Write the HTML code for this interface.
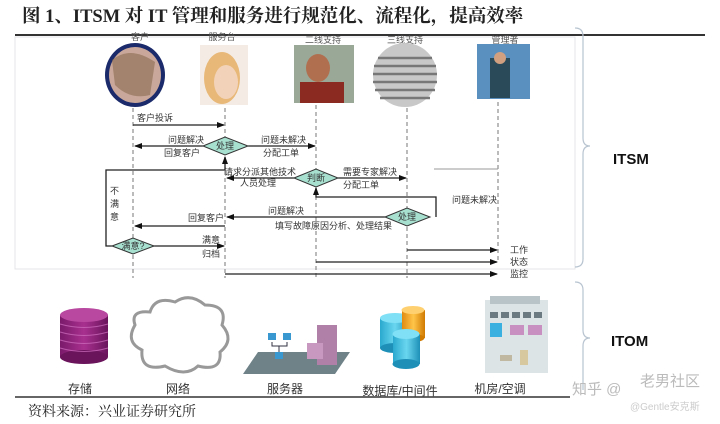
<!DOCTYPE html>
<html><head><meta charset="utf-8"><style>
body{margin:0;background:#fff;}
svg{display:block;font-family:"Liberation Sans","Noto Sans CJK SC",sans-serif;}
.s{font-family:"Liberation Serif","Noto Serif CJK SC",serif;}
</style></head><body>
<svg width="720" height="424" viewBox="0 0 720 424" xmlns="http://www.w3.org/2000/svg">
<defs>
<marker id="a" markerWidth="8" markerHeight="8" refX="7" refY="4" orient="auto" markerUnits="userSpaceOnUse"><path d="M0,1 L8,4 L0,7 Z" fill="#111"/></marker>
<linearGradient id="pg" x1="0" x2="1"><stop offset="0" stop-color="#7a1a6a"/><stop offset="0.5" stop-color="#a8308f"/><stop offset="1" stop-color="#6a145c"/></linearGradient>
<linearGradient id="cg" x1="0" x2="1"><stop offset="0" stop-color="#2aa9cf"/><stop offset="0.5" stop-color="#6ad6ef"/><stop offset="1" stop-color="#1e90b8"/></linearGradient>
<linearGradient id="og" x1="0" x2="1"><stop offset="0" stop-color="#e08a10"/><stop offset="0.5" stop-color="#ffc54a"/><stop offset="1" stop-color="#d07a00"/></linearGradient>
</defs>
<text x="22" y="22" font-size="18.5" font-weight="bold" class="s" fill="#222">图 1、ITSM 对 IT 管理和服务进行规范化、流程化，提高效率</text>
<line x1="15" y1="35" x2="705" y2="35" stroke="#333" stroke-width="2"/>
<rect x="15" y="37" width="560" height="232" fill="none" stroke="#e6e6ea" stroke-width="1"/>
<path d="M575,28 Q583,28 583,36 L583,138 Q583,146 590,146 Q583,146 583,154 L583,259 Q583,267 575,267" fill="none" stroke="#b8c4d0" stroke-width="1.2"/>
<path d="M575,282 Q583,282 583,290 L583,330 Q583,338 590,338 Q583,338 583,346 L583,390" fill="none" stroke="#b8c4d0" stroke-width="1.2"/>
<text x="613" y="164" font-size="15" font-weight="bold" fill="#111">ITSM</text>
<text x="611" y="346" font-size="15" font-weight="bold" fill="#111">ITOM</text>
<g font-size="9" fill="#555" text-anchor="middle">
<text x="140" y="40">客户</text><text x="222" y="40">服务台</text><text x="323" y="43">二线支持</text><text x="405" y="43">三线支持</text><text x="505" y="43">管理者</text></g>
<ellipse cx="135" cy="75" rx="30" ry="32" fill="#1a2a6a"/><ellipse cx="135" cy="75" rx="26" ry="28" fill="#c9a79a"/><path d="M112,60 Q130,45 155,62 L150,95 Q130,100 115,85Z" fill="#8a6a50" opacity=".6"/>
<rect x="200" y="45" width="48" height="60" fill="#f4ece4"/><ellipse cx="222" cy="78" rx="18" ry="26" fill="#e8b878"/><ellipse cx="226" cy="82" rx="12" ry="17" fill="#f2d2b8"/>
<rect x="294" y="45" width="60" height="58" fill="#9aa898"/><ellipse cx="318" cy="68" rx="12" ry="14" fill="#b07050"/><rect x="300" y="82" width="44" height="21" fill="#8a2a20"/>
<ellipse cx="405" cy="75" rx="32" ry="32" fill="#c8c8c8"/>
<g stroke="#777" stroke-width="2.5"><line x1="378" y1="58" x2="432" y2="58"/><line x1="374" y1="66" x2="436" y2="66"/><line x1="373" y1="74" x2="437" y2="74"/><line x1="373" y1="82" x2="437" y2="82"/><line x1="375" y1="90" x2="435" y2="90"/><line x1="380" y1="98" x2="430" y2="98"/></g>
<rect x="477" y="44" width="53" height="55" fill="#5a90c0"/><rect x="490" y="58" width="20" height="40" fill="#2a4a5a"/><circle cx="500" cy="58" r="6" fill="#d0a080"/>
<g stroke="#777" stroke-width="1" stroke-dasharray="4,3">
<line x1="133" y1="108" x2="133" y2="278"/><line x1="225" y1="108" x2="225" y2="278"/><line x1="316" y1="105" x2="316" y2="278"/><line x1="407" y1="108" x2="407" y2="278"/><line x1="498" y1="102" x2="498" y2="260"/></g>
<g stroke="#222" stroke-width="1.3" fill="none">
<line x1="133" y1="125" x2="224" y2="125" marker-end="url(#a)"/>
<line x1="203" y1="146" x2="135" y2="146" marker-end="url(#a)"/>
<line x1="248" y1="146" x2="315" y2="146" marker-end="url(#a)"/>
<line x1="225" y1="170" x2="225" y2="157" marker-end="url(#a)"/>
<polyline points="225,170 106,170 106,246 112,246"/>
<line x1="294" y1="178" x2="227" y2="178" marker-end="url(#a)"/>
<line x1="338" y1="178" x2="406" y2="178" marker-end="url(#a)"/>
<polyline points="436,217 436,197 316,197 316,188" marker-end="url(#a)"/>
<line x1="385" y1="217" x2="227" y2="217" marker-end="url(#a)"/>
<line x1="225" y1="226" x2="135" y2="226" marker-end="url(#a)"/>
<line x1="153" y1="246" x2="224" y2="246" marker-end="url(#a)"/>
<line x1="407" y1="250" x2="497" y2="250" marker-end="url(#a)"/>
<line x1="316" y1="262" x2="497" y2="262" marker-end="url(#a)"/>
<line x1="225" y1="274" x2="497" y2="274" marker-end="url(#a)"/>
</g>
<line x1="434" y1="169" x2="498" y2="169" stroke="#999" stroke-width="1"/>
<g fill="#a8e0d0" stroke="#333" stroke-width="1">
<polygon points="203,146 225,137 248,146 225,155"/>
<polygon points="294,178 316,169 338,178 316,187"/>
<polygon points="385,217 407,208 430,217 407,226"/>
<polygon points="112,246 133,238 154,246 133,254"/>
</g>
<g font-size="9" fill="#333" text-anchor="middle">
<text x="225" y="149">处理</text><text x="316" y="181">判断</text><text x="407" y="220">处理</text><text x="133" y="249">满意?</text></g>
<g font-size="9" fill="#333">
<text x="137" y="121">客户投诉</text>
<text x="168" y="143">问题解决</text><text x="164" y="156">回复客户</text>
<text x="261" y="143">问题未解决</text><text x="263" y="156">分配工单</text>
<text x="224" y="175">请求分派其他技术</text><text x="240" y="186">人员处理</text>
<text x="343" y="175">需要专家解决</text><text x="343" y="188">分配工单</text>
<text x="452" y="203">问题未解决</text>
<text x="268" y="214">问题解决</text><text x="188" y="221">回复客户</text>
<text x="275" y="229">填写故障原因分析、处理结果</text>
<text x="202" y="243">满意</text><text x="202" y="257">归档</text>
<text x="110" y="194">不</text><text x="110" y="207">满</text><text x="110" y="220">意</text>
<text x="510" y="253">工作</text><text x="510" y="265">状态</text><text x="510" y="277">监控</text>
</g>
<rect x="60" y="315" width="48" height="42" fill="url(#pg)"/>
<ellipse cx="84" cy="357" rx="24" ry="7" fill="#6a145c"/>
<ellipse cx="84" cy="315" rx="24" ry="7" fill="#b848a0"/>
<g stroke="#d070c0" stroke-width="1" fill="none" opacity=".7"><path d="M60,324 Q84,331 108,324"/><path d="M60,332 Q84,339 108,332"/><path d="M60,340 Q84,347 108,340"/><path d="M60,348 Q84,355 108,348"/></g>
<path d="M150,312 Q155,296 175,302 Q190,292 205,305 Q228,305 222,325 Q235,340 220,352 Q222,372 198,366 Q185,378 165,366 Q140,372 142,350 Q125,342 135,325 Q130,310 150,312Z" fill="#fff" stroke="#999" stroke-width="3"/>
<polygon points="258,352 350,352 335,374 243,374" fill="#6e8288"/>
<rect x="268" y="333" width="8" height="7" fill="#3a98d0"/><rect x="283" y="333" width="8" height="7" fill="#3a98d0"/><rect x="275" y="352" width="8" height="7" fill="#3a98d0"/>
<polyline points="272,342 272,346 287,346 287,342" fill="none" stroke="#334" /><line x1="279" y1="346" x2="279" y2="352" stroke="#334"/>
<rect x="317" y="325" width="20" height="40" fill="#b080a8"/><rect x="307" y="343" width="16" height="16" fill="#c898c0"/>
<rect x="380" y="318" width="30" height="30" fill="url(#cg)"/><ellipse cx="395" cy="318" rx="15" ry="5" fill="#80e0f5"/><ellipse cx="395" cy="348" rx="15" ry="5" fill="#1e90b8"/>
<rect x="402" y="310" width="23" height="28" fill="url(#og)"/><ellipse cx="413" cy="310" rx="11.5" ry="4" fill="#ffd070"/><ellipse cx="413" cy="338" rx="11.5" ry="4" fill="#d07a00"/>
<rect x="393" y="334" width="27" height="30" fill="url(#cg)"/><ellipse cx="406" cy="334" rx="13.5" ry="5" fill="#80e0f5"/><ellipse cx="406" cy="364" rx="13.5" ry="5" fill="#1e90b8"/>
<rect x="485" y="300" width="63" height="73" fill="#dde4e6"/><rect x="490" y="296" width="50" height="8" fill="#b8c4c8"/>
<g fill="#6a7a80"><rect x="490" y="312" width="8" height="6"/><rect x="501" y="312" width="8" height="6"/><rect x="512" y="312" width="8" height="6"/><rect x="523" y="312" width="8" height="6"/><rect x="534" y="312" width="8" height="6"/></g>
<rect x="490" y="323" width="12" height="14" fill="#3ab0e0"/><rect x="510" y="325" width="14" height="10" fill="#c890c0"/><rect x="528" y="325" width="14" height="10" fill="#c890c0"/>
<rect x="520" y="350" width="8" height="15" fill="#d8c8a0"/><rect x="500" y="355" width="12" height="6" fill="#c0b8a0"/>
<g font-size="12" fill="#333" text-anchor="middle">
<text x="80" y="393">存储</text><text x="178" y="393">网络</text><text x="285" y="393">服务器</text><text x="400" y="395">数据库/中间件</text><text x="500" y="393">机房/空调</text></g>
<line x1="15" y1="397" x2="570" y2="397" stroke="#333" stroke-width="1.5"/>
<text x="28" y="416" font-size="14" class="s" fill="#222">资料来源：兴业证券研究所</text>
<g fill="#bbb" font-size="15"><text x="572" y="394">知乎 @</text><text x="640" y="386">老男社区</text></g>
<text x="630" y="410" font-size="10" fill="#ccc">@Gentle安克斯</text>
</svg>
</body></html>
